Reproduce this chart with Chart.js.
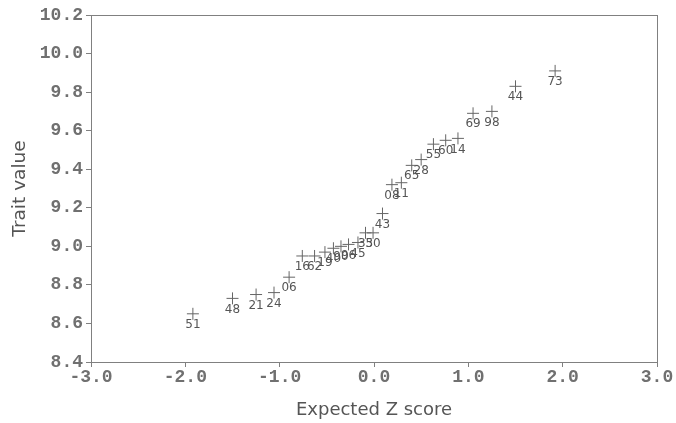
<!DOCTYPE html>
<html>
<head>
<meta charset="utf-8">
<script src="https://cdn.jsdelivr.net/npm/chart.js@4"></script>
<style>
  html, body { margin: 0; padding: 0; background: #fff; }
  #wrap { width: 676px; height: 423px; }
</style>
</head>
<body>
<div id="wrap"><canvas id="chart" width="676" height="423"></canvas></div>
<script>
// genotype ids, expected z scores and trait values
const ids = ["51", "48", "21", "24", "06", "16", "62", "19", "40", "90", "96", "45", "33", "50",
  "43", "08", "11", "65", "28", "55", "60", "14", "69", "98", "44", "73"];
const zScores = [-1.92, -1.50, -1.25, -1.06, -0.90, -0.76, -0.63, -0.52, -0.43, -0.35, -0.27, -0.17, -0.09, -0.01,
  0.09, 0.19, 0.29, 0.40, 0.50, 0.63, 0.76, 0.89, 1.05, 1.25, 1.50, 1.92];
const traitValues = [8.65, 8.73, 8.75, 8.76, 8.84, 8.95, 8.95, 8.97, 8.99, 9.00, 9.01, 9.02, 9.07, 9.07,
  9.17, 9.32, 9.33, 9.42, 9.45, 9.53, 9.55, 9.56, 9.69, 9.70, 9.83, 9.91];
const xTicks = [-3, -2, -1, 0, 1, 2, 3];
const yTicks = [8.4, 8.6, 8.8, 9.0, 9.2, 9.4, 9.6, 9.8, 10.0, 10.2];

const grey = "#707070";
const tickFont = { family: "Liberation Mono", size: 18, weight: "bold" };

// box round the plot area
const frame = {
  id: "frame",
  afterDraw(chart) {
    const a = chart.chartArea, ctx = chart.ctx;
    ctx.save();
    ctx.strokeStyle = "#808080";
    ctx.lineWidth = 1;
    ctx.strokeRect(Math.round(a.left) + 0.5, Math.round(a.top) + 0.5,
      Math.round(a.right - a.left), Math.round(a.bottom - a.top));
    ctx.restore();
  }
};

// id under each cross
const pointLabels = {
  id: "pointLabels",
  afterDatasetsDraw(chart) {
    const ctx = chart.ctx;
    const meta = chart.getDatasetMeta(0);
    ctx.save();
    ctx.fillStyle = "#555";
    ctx.font = "12px 'DejaVu Sans'";
    ctx.textAlign = "center";
    ctx.textBaseline = "middle";
    meta.data.forEach(function (pt, i) {
      ctx.fillText(ids[i], pt.x, pt.y + 11);
    });
    ctx.restore();
  }
};

new Chart(document.getElementById("chart"), {
  type: "scatter",
  data: {
    datasets: [{
      label: "Trait value",
      data: zScores.map((z, i) => ({ x: z, y: traitValues[i] })),
      pointStyle: "cross",
      pointRadius: 6,
      pointHoverRadius: 6,
      borderColor: "#666",
      backgroundColor: "#666",
      pointBorderWidth: 1
    }]
  },
  options: {
    responsive: false,
    animation: false,
    layout: { padding: { top: 15, right: 19, left: 0, bottom: 0 } },
    plugins: {
      legend: { display: false },
      tooltip: { enabled: false }
    },
    scales: {
      x: {
        type: "linear",
        min: -3,
        max: 3,
        afterBuildTicks: s => { s.ticks = xTicks.map(v => ({ value: v })); },
        afterFit: s => { s.height = 61; },
        grid: { drawOnChartArea: false, tickLength: 5, color: "#808080" },
        border: { color: "#808080" },
        ticks: {
          color: grey, font: tickFont, padding: 0, maxRotation: 0,
          callback: v => v.toFixed(1)
        },
        title: {
          display: true, text: "Expected Z score", color: "#555",
          font: { family: "DejaVu Sans", size: 18 }, padding: { top: 0, bottom: 2 }
        }
      },
      y: {
        type: "linear",
        min: 8.4,
        max: 10.2,
        afterBuildTicks: s => { s.ticks = yTicks.map(v => ({ value: v })); },
        afterFit: s => { s.width = 91; },
        grid: { drawOnChartArea: false, tickLength: 5, color: "#808080" },
        border: { color: "#808080" },
        ticks: {
          color: grey, font: tickFont, padding: 3,
          callback: v => v.toFixed(1)
        },
        title: {
          display: true, text: "Trait value", color: "#555",
          font: { family: "DejaVu Sans", size: 18.5 }, padding: { top: 9, bottom: 0 }
        }
      }
    }
  },
  plugins: [frame, pointLabels]
});
</script>
</body>
</html>
